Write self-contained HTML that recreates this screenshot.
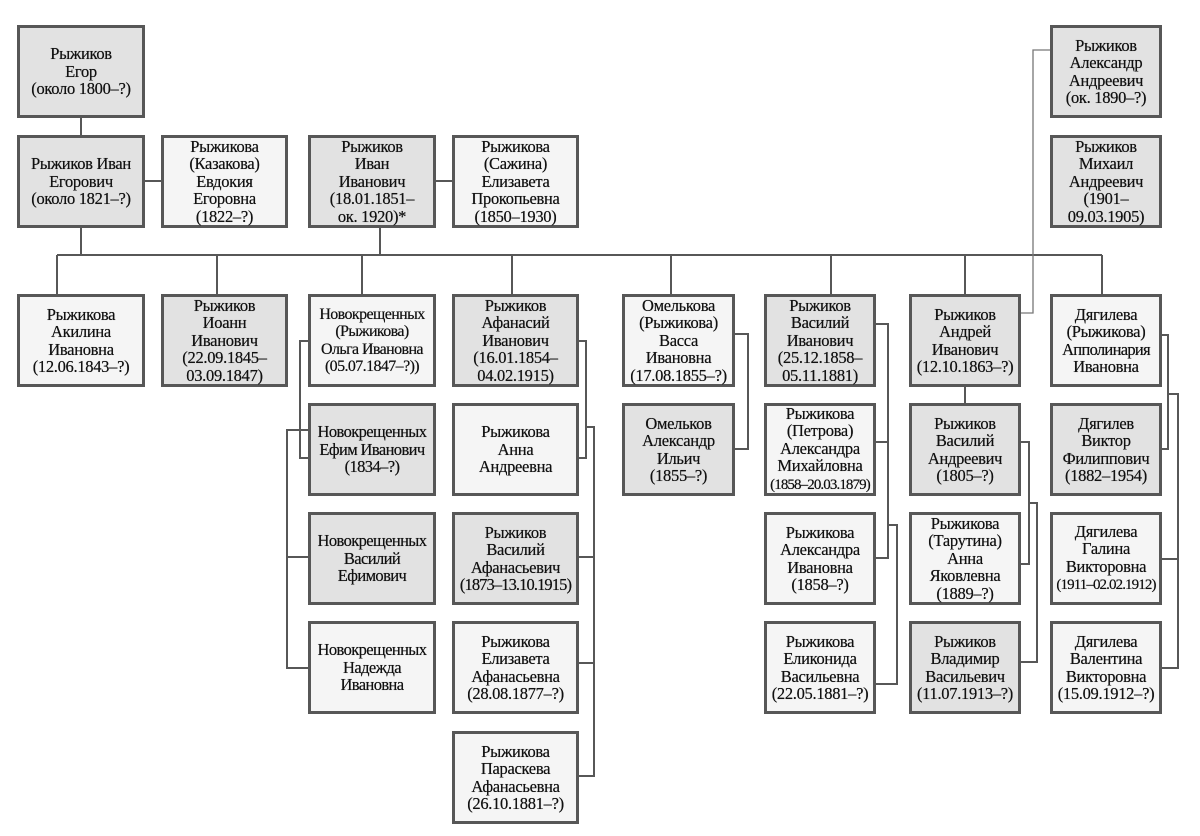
<!DOCTYPE html>
<html><head><meta charset="utf-8">
<style>
body{margin:0;background:#fff;}
#c{position:relative;width:1200px;height:836px;overflow:hidden;background:#fff;}
.b{position:absolute;box-sizing:border-box;border:3px solid #575757;display:flex;align-items:center;justify-content:center;text-align:center;font-family:"Liberation Serif",serif;font-size:16.5px;line-height:17.4px;color:#111;background:#f5f5f5;white-space:nowrap;letter-spacing:-0.3px;text-shadow:0 0 0.4px #111;}
.d{background:#e2e2e2;}
.n{font-size:15px;letter-spacing:-0.9px;}
svg{position:absolute;left:0;top:0;}
</style></head><body><div id="c">
<svg width="1200" height="836" fill="none" stroke="#575757" stroke-width="2">
<path d="M81 118V135M145 181H161M435 181H452M81 228V255M380 228V255M57 255H1102M57 255V294M217 255V294M362 255V294M512 255V294M671 255V294M831 255V294M965 255V294M1102 255V294"/>
<path d="M309 341H300V458H309M309 430H287V668H309M287 557H309"/>
<path d="M579 341H586V458H579M586 427H594V776H579M579 557H594M579 663H594"/>
<path d="M735 334H748V449H735"/>
<path d="M876 324H888V558H876M876 442H888M888 525H897V684H876"/>
<path d="M965 387V403M1021 442H1029V564H1021M1029 503H1037V662H1021"/>
<path d="M1162 335H1168V449H1162M1168 394H1178V668H1162M1162 559H1178"/>
<path d="M1021 313H1033V50H1050" stroke-width="1.3" stroke="#777"/>
</svg>
<div class="b d" style="left:17px;top:25px;width:128px;height:93px">Рыжиков<br>Егор<br>(около 1800–?)</div>
<div class="b d" style="left:17px;top:135px;width:128px;height:93px">Рыжиков Иван<br>Егорович<br>(около 1821–?)</div>
<div class="b" style="left:161px;top:135px;width:127px;height:93px">Рыжикова<br>(Казакова)<br>Евдокия<br>Егоровна<br>(1822–?)</div>
<div class="b d" style="left:308px;top:135px;width:128px;height:93px">Рыжиков<br>Иван<br>Иванович<br>(18.01.1851–<br>ок. 1920)*</div>
<div class="b" style="left:452px;top:135px;width:127px;height:93px">Рыжикова<br>(Сажина)<br>Елизавета<br>Прокопьевна<br>(1850–1930)</div>
<div class="b d" style="left:1050px;top:25px;width:112px;height:93px">Рыжиков<br>Александр<br>Андреевич<br>(ок. 1890–?)</div>
<div class="b d" style="left:1050px;top:135px;width:112px;height:93px">Рыжиков<br>Михаил<br>Андреевич<br>(1901–<br>09.03.1905)</div>

<div class="b" style="left:17px;top:294px;width:128px;height:93px">Рыжикова<br>Акилина<br>Ивановна<br>(12.06.1843–?)</div>
<div class="b d" style="left:161px;top:294px;width:127px;height:93px">Рыжиков<br>Иоанн<br>Иванович<br>(22.09.1845–<br>03.09.1847)</div>
<div class="b" style="left:308px;top:294px;width:128px;height:93px"><span class="n" style="font-size:16px;letter-spacing:-0.6px">Новокрещенных<br>(Рыжикова)<br>Ольга Ивановна<br>(05.07.1847–?))</span></div>
<div class="b d" style="left:308px;top:403px;width:128px;height:93px"><span style="letter-spacing:-0.6px">Новокрещенных<br>Ефим Иванович<br>(1834–?)</span></div>
<div class="b d" style="left:308px;top:512px;width:128px;height:93px"><span style="letter-spacing:-0.6px">Новокрещенных<br>Василий<br>Ефимович</span></div>
<div class="b" style="left:308px;top:621px;width:128px;height:93px"><span style="letter-spacing:-0.6px">Новокрещенных<br>Надежда<br>Ивановна</span></div>

<div class="b d" style="left:452px;top:294px;width:127px;height:93px">Рыжиков<br>Афанасий<br>Иванович<br>(16.01.1854–<br>04.02.1915)</div>
<div class="b" style="left:452px;top:403px;width:127px;height:93px">Рыжикова<br>Анна<br>Андреевна</div>
<div class="b d" style="left:452px;top:512px;width:127px;height:93px"><span>Рыжиков<br>Василий<br>Афанасьевич<br><span style="letter-spacing:-0.9px">(1873–13.10.1915)</span></span></div>
<div class="b" style="left:452px;top:621px;width:127px;height:93px">Рыжикова<br>Елизавета<br>Афанасьевна<br>(28.08.1877–?)</div>
<div class="b" style="left:452px;top:731px;width:127px;height:93px">Рыжикова<br>Параскева<br>Афанасьевна<br>(26.10.1881–?)</div>

<div class="b" style="left:622px;top:294px;width:113px;height:93px">Омелькова<br>(Рыжикова)<br>Васса<br>Ивановна<br>(17.08.1855–?)</div>
<div class="b d" style="left:622px;top:403px;width:113px;height:93px">Омельков<br>Александр<br>Ильич<br>(1855–?)</div>

<div class="b d" style="left:764px;top:294px;width:112px;height:93px">Рыжиков<br>Василий<br>Иванович<br>(25.12.1858–<br>05.11.1881)</div>
<div class="b" style="left:764px;top:403px;width:112px;height:93px"><span>Рыжикова<br>(Петрова)<br>Александра<br>Михайловна<br><span class="n">(1858–20.03.1879)</span></span></div>
<div class="b" style="left:764px;top:512px;width:112px;height:93px">Рыжикова<br>Александра<br>Ивановна<br>(1858–?)</div>
<div class="b" style="left:764px;top:621px;width:112px;height:93px">Рыжикова<br>Еликонида<br>Васильевна<br>(22.05.1881–?)</div>

<div class="b d" style="left:909px;top:294px;width:112px;height:93px">Рыжиков<br>Андрей<br>Иванович<br>(12.10.1863–?)</div>
<div class="b d" style="left:909px;top:403px;width:112px;height:93px">Рыжиков<br>Василий<br>Андреевич<br>(1805–?)</div>
<div class="b" style="left:909px;top:512px;width:112px;height:93px">Рыжикова<br>(Тарутина)<br>Анна<br>Яковлевна<br>(1889–?)</div>
<div class="b d" style="left:909px;top:621px;width:112px;height:93px">Рыжиков<br>Владимир<br>Васильевич<br>(11.07.1913–?)</div>

<div class="b" style="left:1050px;top:294px;width:112px;height:93px"><span>Дягилева<br>(Рыжикова)<br><span style="letter-spacing:-0.7px">Апполинария</span><br>Ивановна</span></div>
<div class="b d" style="left:1050px;top:403px;width:112px;height:93px">Дягилев<br>Виктор<br>Филиппович<br>(1882–1954)</div>
<div class="b" style="left:1050px;top:512px;width:112px;height:93px"><span>Дягилева<br>Галина<br>Викторовна<br><span class="n">(1911–02.02.1912)</span></span></div>
<div class="b" style="left:1050px;top:621px;width:112px;height:93px">Дягилева<br>Валентина<br>Викторовна<br>(15.09.1912–?)</div>
</div></body></html>
